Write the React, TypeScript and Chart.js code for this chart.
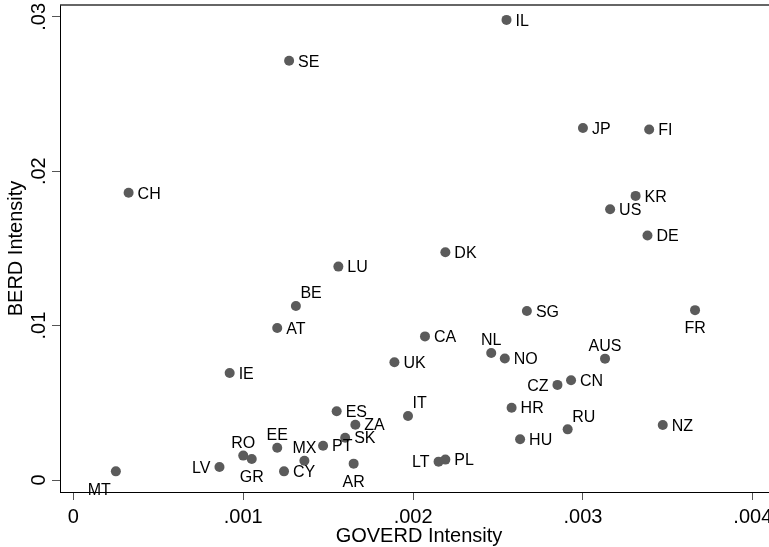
import { useEffect, useRef } from "react";
import { Chart, registerables } from "chart.js";

Chart.register(...registerables);

// ---- data ----
const countries = [
  "CH", "SE", "IL", "JP", "FI", "KR", "US", "DE", "DK", "LU",
  "BE", "AT", "CA", "UK", "NL", "NO", "ES", "ZA", "SK", "PT",
  "MX", "EE", "CY", "AR", "IT", "LT", "PL", "HR", "HU", "SG",
  "FR", "AUS", "CN", "CZ", "RU", "NZ", "IE", "RO", "GR", "LV", "MT",
];
const goverd = [
  0.000325, 0.00127, 0.00255, 0.003, 0.00339, 0.00331, 0.00316, 0.00338, 0.00219, 0.00156,
  0.00131, 0.0012, 0.00207, 0.00189, 0.00246, 0.00254, 0.00155, 0.00166, 0.0016, 0.00147,
  0.00136, 0.0012, 0.00124, 0.00165, 0.00197, 0.00215, 0.00219, 0.00258, 0.00263, 0.00267,
  0.00366, 0.00313, 0.00293, 0.00285, 0.00291, 0.00347, 0.00092, 0.001, 0.00105, 0.00086, 0.00025,
];
const berd = [
  0.0186, 0.02715, 0.0298, 0.0228, 0.0227, 0.0184, 0.01754, 0.01583, 0.01475, 0.01382,
  0.01127, 0.00985, 0.0093, 0.00763, 0.00823, 0.00787, 0.00445, 0.00358, 0.00274, 0.00222,
  0.00125, 0.00209, 0.00056, 0.00106, 0.00415, 0.00119, 0.00132, 0.00468, 0.00264, 0.01095,
  0.011, 0.00786, 0.00646, 0.00616, 0.00328, 0.00356, 0.00693, 0.00158, 0.00136, 0.00084, 0.00056,
];
const xTickValues = [0, 0.001, 0.002, 0.003, 0.004];
const xTickLabels = ["0", ".001", ".002", ".003", ".004"];
const yTickValues = [0, 0.01, 0.02, 0.03];
const yTickLabels = ["0", ".01", ".02", ".03"];
const xTitle = "GOVERD Intensity";
const yTitle = "BERD Intensity";

// marker-label placement (clock positions, default 3 o'clock)
const labelClock: Record<string, number> = {
  MT: 7, LV: 9, RO: 12, GR: 6, EE: 12, MX: 12, AR: 6, IT: 1, LT: 9,
  NL: 12, BE: 1, FR: 6, AUS: 12, CZ: 9, RU: 1,
};

// ---- styling ----
const FONT = "'Liberation Sans', Arial, Helvetica, sans-serif";
const MARKER = "#5b5b5b";
const X_MIN = -13.5 / 171000;
const X_MAX = X_MIN + 740 / 171000;
const Y_MIN = -12 / 15440;
const Y_MAX = 475 / 15440;

const decor = {
  id: "stataDecor",
  afterDatasetsDraw(chart: any) {
    const ctx = chart.ctx as CanvasRenderingContext2D;
    const meta = chart.getDatasetMeta(0);
    ctx.save();
    ctx.fillStyle = "#000";
    ctx.font = `16px ${FONT}`;
    meta.data.forEach((pt: any, i: number) => {
      const name = countries[i];
      const pos = labelClock[name] ?? 3;
      const x = pt.x;
      const y = pt.y;
      let tx = x + 9;
      let ty = y + 5.7;
      let align: CanvasTextAlign = "left";
      if (pos === 9) { tx = x - 9; align = "right"; }
      else if (pos === 12) { tx = x; ty = y - 7.5; align = "center"; }
      else if (pos === 6) { tx = x; ty = y + 23; align = "center"; }
      else if (pos === 1) { tx = x + 4.5; ty = y - 7.7; align = "left"; }
      else if (pos === 7) { tx = x - 5; ty = y + 23.5; align = "right"; }
      ctx.textAlign = align;
      ctx.textBaseline = "alphabetic";
      ctx.fillText(name, tx, ty);
    });
    ctx.restore();
  },
  afterDraw(chart: any) {
    const ctx = chart.ctx as CanvasRenderingContext2D;
    const area = chart.chartArea;
    const yScale = chart.scales.y;
    ctx.save();
    // plot region top outline
    ctx.strokeStyle = "#333";
    ctx.lineWidth = 1.5;
    ctx.beginPath();
    ctx.moveTo(area.left, area.top);
    ctx.lineTo(area.right, area.top);
    ctx.stroke();
    // rotated y tick labels
    ctx.fillStyle = "#000";
    ctx.font = `20px ${FONT}`;
    ctx.textAlign = "center";
    ctx.textBaseline = "alphabetic";
    yTickValues.forEach((v, i) => {
      const py = yScale.getPixelForValue(v);
      ctx.save();
      ctx.translate(area.left - 15, py);
      ctx.rotate(-Math.PI / 2);
      ctx.fillText(yTickLabels[i], 0, 0);
      ctx.restore();
    });
    // y title
    ctx.save();
    ctx.translate(area.left - 38, (area.top + area.bottom) / 2);
    ctx.rotate(-Math.PI / 2);
    ctx.fillText(yTitle, 0, 0);
    ctx.restore();
    // x title
    ctx.fillText(xTitle, 419, area.bottom + 49.7);
    ctx.restore();
  },
};

export default function App() {
  const ref = useRef<HTMLCanvasElement | null>(null);
  useEffect(() => {
    if (!ref.current) return;
    const chart = new Chart(ref.current, {
      type: "scatter",
      data: {
        datasets: [
          {
            data: countries.map((_, i) => ({ x: goverd[i], y: berd[i] })),
            backgroundColor: MARKER,
            borderWidth: 0,
            pointRadius: 5,
            pointHoverRadius: 5,
            pointBorderWidth: 0,
          },
        ],
      },
      options: {
        animation: false,
        responsive: false,
        events: [],
        layout: { padding: { top: 5, left: 0, right: 0, bottom: 0 } },
        plugins: { legend: { display: false }, tooltip: { enabled: false } },
        scales: {
          x: {
            type: "linear",
            min: X_MIN,
            max: X_MAX,
            afterBuildTicks: (s: any) => {
              s.ticks = xTickValues.map((v) => ({ value: v }));
            },
            afterFit: (s: any) => {
              s.height = 55;
            },
            ticks: {
              autoSkip: false,
              maxRotation: 0,
              minRotation: 0,
              padding: 5,
              color: "#000",
              font: { family: FONT, size: 20 },
              callback: (value: any) => {
                const idx = xTickValues.findIndex((v) => Math.abs(v - Number(value)) < 1e-9);
                return idx >= 0 ? xTickLabels[idx] : "";
              },
            },
            grid: { drawOnChartArea: false, drawTicks: true, tickLength: 8, color: "#555", lineWidth: 1 },
            border: { display: true, color: "#000", width: 1 },
          },
          y: {
            type: "linear",
            min: Y_MIN,
            max: Y_MAX,
            afterBuildTicks: (s: any) => {
              s.ticks = yTickValues.map((v) => ({ value: v }));
            },
            afterFit: (s: any) => {
              s.width = 60;
            },
            ticks: { display: false },
            grid: { drawOnChartArea: false, drawTicks: true, tickLength: 8, color: "#555", lineWidth: 1 },
            border: { display: true, color: "#000", width: 1 },
          },
        },
      },
      plugins: [decor],
    });
    return () => chart.destroy();
  }, []);
  return (
    <div
      style={{
        position: "fixed",
        left: 0,
        top: 0,
        width: 769,
        height: 547,
        overflow: "hidden",
        background: "#fff",
      }}
    >
      <canvas ref={ref} width={800} height={547} style={{ display: "block" }} />
    </div>
  );
}
